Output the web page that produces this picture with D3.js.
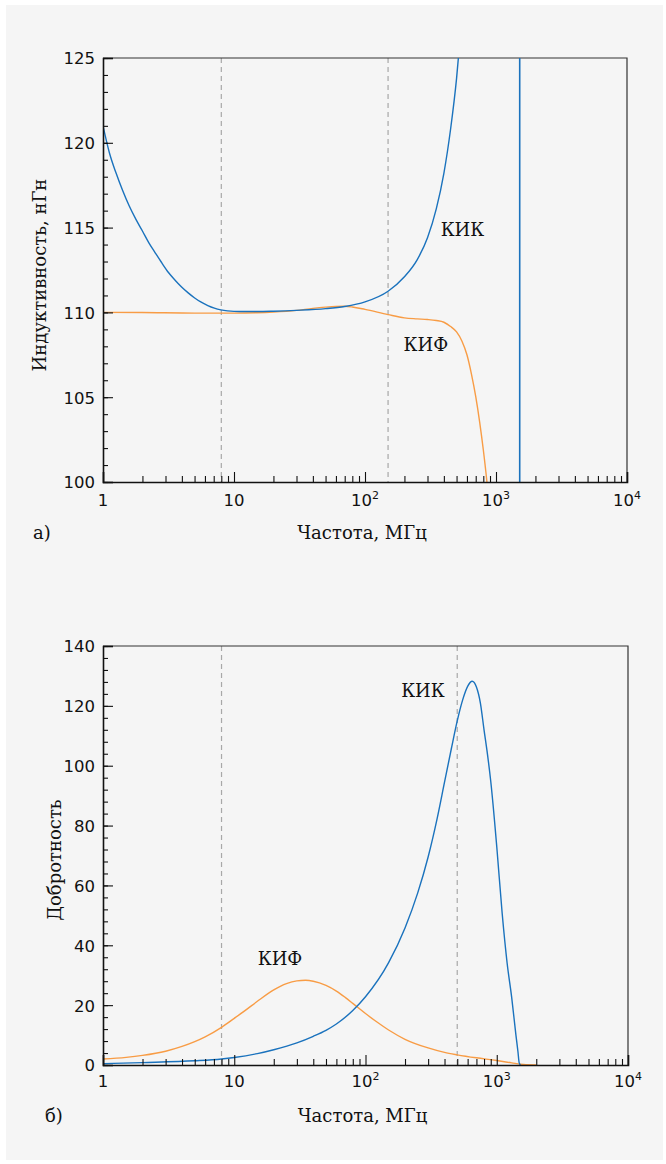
<!DOCTYPE html>
<html>
<head>
<meta charset="utf-8">
<script src="https://cdn.jsdelivr.net/npm/d3@7"></script>
<style>
  body { margin: 0; background: #ffffff; }
  svg { display: block; }
  .tick-lbl { font-family: "DejaVu Sans", sans-serif; font-size: 16.5px; fill: #111; }
  .lbl { font-family: "DejaVu Serif", serif; font-size: 18px; fill: #111; }
</style>
</head>
<body>
<div id="chart"></div>
<script>
// ---- данные ----
const xTickValues = [1, 10, 100, 1000, 10000];
const xTickText = [["1", ""], ["10", ""], ["10", "2"], ["10", "3"], ["10", "4"]];

// а) индуктивность, нГн
const freqKikL = [1, 1.12, 1.26, 1.41, 1.58, 1.78, 2, 2.24, 2.51, 2.82, 3.16, 3.55, 3.98, 4.47, 5.01, 5.62, 6.31, 7.08, 7.94, 8.91, 10,
    12, 15, 20, 30, 50, 70, 100, 150, 200, 250, 300, 350, 400, 450, 500, 530];
const kikL = [121.0, 119.4, 118.2, 117.2, 116.3, 115.5, 114.8, 114.1, 113.5, 112.9, 112.35, 111.9, 111.5, 111.15, 110.85, 110.6, 110.4, 110.25, 110.15, 110.09, 110.06,
    110.05, 110.05, 110.07, 110.12, 110.22, 110.35, 110.62, 111.25, 112.1, 113.1, 114.4, 116.1, 118.2, 120.8, 123.8, 126.0];
const kikResonance = 1517;
const freqKifL = [1, 2, 5, 10, 15, 20, 30, 40, 50, 60, 70, 80, 100, 150, 200, 250, 300, 350, 400, 450, 500, 550, 600, 650, 700, 750, 800, 850, 880];
const kifL = [110.0, 109.99, 109.96, 109.96, 109.98, 110.02, 110.12, 110.24, 110.31, 110.35, 110.36, 110.32, 110.18, 109.87, 109.68, 109.62, 109.58, 109.52, 109.42, 109.17, 108.85, 108.3, 107.5, 106.35, 105.05, 103.55, 101.9, 100.1, 98.9];

// б) добротность
const freqKikQ = [1, 2, 5, 8, 10, 15, 20, 30, 40, 50, 60, 80, 100, 150, 200, 250, 300, 350, 400, 450, 500, 550, 600, 650, 700, 750, 800, 850, 900, 1000, 1100, 1200, 1300, 1400, 1450, 1483, 1517];
const kikQ = [0.45, 0.8, 1.4, 2.0, 2.5, 3.8, 5.1, 7.4, 9.6, 11.6, 13.7, 18.2, 22.8, 34.2, 45.8, 57.5, 69.5, 82, 94.5, 105.5, 115, 122, 126.5, 128.2, 126.3, 121, 112, 103.8, 94.8, 73, 50.6, 34, 22.5, 10, 4.5, 0.7, 0];
const freqKifQ = [1, 1.5, 2, 3, 4, 5, 6, 8, 10, 12, 15, 20, 25, 30, 35, 40, 50, 60, 70, 80, 100, 120, 150, 200, 300, 400, 500, 700, 1000, 1300, 1600, 2000];
const kifQ = [2.0, 2.55, 3.2, 4.6, 6.2, 7.8, 9.4, 12.6, 15.6, 18.1, 21.3, 25.1, 27.2, 28.1, 28.3, 28.0, 26.6, 24.7, 22.6, 20.6, 17.2, 14.6, 11.7, 8.6, 5.7, 4.2, 3.4, 2.4, 1.5, 0.7, 0.15, 0];

const blue = "#1a72bd", orange = "#f89c45";

const W = 666, H = 1164;
const svg = d3.select("#chart").append("svg").attr("width", W).attr("height", H);
svg.append("rect").attr("x", 6).attr("y", 5).attr("width", 657).attr("height", 1155).attr("fill", "#f5f5f5");

function panel(cfg) {
    const g = svg.append("g").attr("transform", `translate(${cfg.left},${cfg.top})`);
    const w = cfg.width, h = cfg.height;
    const x = d3.scaleLog().domain([1, 10000]).range([0, w]);
    const y = d3.scaleLinear().domain(cfg.yDomain).range([h, 0]);

    const clipId = "clip-" + cfg.id;
    g.append("clipPath").attr("id", clipId).append("rect").attr("width", w).attr("height", h);

    // пунктирные вертикали
    g.selectAll(".dash").data(cfg.dashed).enter().append("line")
        .attr("x1", d => x(d)).attr("x2", d => x(d))
        .attr("y1", 0).attr("y2", h)
        .attr("stroke", "#a8a8a8").attr("stroke-width", 1.2)
        .attr("stroke-dasharray", "5,4");

    // рамка сверху и справа
    g.append("path").attr("d", `M0,0H${w}V${h}`).attr("fill", "none")
        .attr("stroke", "#333").attr("stroke-width", 1.2);

    // кривые
    const line = d3.line().x(d => x(d[0])).y(d => y(d[1])).curve(d3.curveMonotoneX);
    const curves = g.append("g").attr("clip-path", `url(#${clipId})`);
    cfg.series.forEach(s => {
        curves.append("path")
            .datum(d3.zip(s.f, s.v))
            .attr("d", line)
            .attr("fill", "none")
            .attr("stroke", s.color)
            .attr("stroke-width", 1.4);
    });
    if (cfg.vline) {
        curves.append("line")
            .attr("x1", x(cfg.vline)).attr("x2", x(cfg.vline))
            .attr("y1", 0).attr("y2", h)
            .attr("stroke", blue).attr("stroke-width", 1.6);
    }

    // ось Y
    const yMinor = d3.range(cfg.yDomain[0], cfg.yDomain[1] + 0.001, cfg.yMinorStep);
    g.append("g").call(d3.axisLeft(y).tickValues(yMinor).tickSize(-5).tickFormat(""))
        .call(a => a.select(".domain").remove());
    const yAx = g.append("g").call(d3.axisLeft(y).tickValues(cfg.yTicks).tickSize(-10).tickPadding(8));
    yAx.selectAll("text").attr("class", "tick-lbl").attr("dy", "0.36em");
    yAx.select(".domain").attr("stroke", "#111").attr("stroke-width", 1.6);
    yAx.attr("font-size", null).attr("font-family", null);

    // ось X
    const xMinor = [];
    for (let p = 1; p < 10000; p *= 10) for (let k = 2; k <= 9; k++) xMinor.push(p * k);
    g.append("g").attr("transform", `translate(0,${h})`)
        .call(d3.axisBottom(x).tickValues(xMinor).tickSize(-6).tickFormat(""))
        .call(a => a.select(".domain").remove());
    const xAx = g.append("g").attr("transform", `translate(0,${h})`)
        .call(d3.axisBottom(x).tickValues(xTickValues).tickSize(-10).tickFormat(""));
    xAx.select(".domain").attr("stroke", "#111").attr("stroke-width", 1.6);
    g.selectAll(".tick line").attr("stroke", "#111").attr("stroke-width", 1.1);

    const xl = g.append("g").selectAll("text").data(xTickValues).enter().append("text")
        .attr("class", "tick-lbl")
        .attr("x", d => x(d))
        .attr("y", h + cfg.xLabelOffset)
        .attr("text-anchor", "middle");
    xl.each(function (d, i) {
        const t = d3.select(this);
        t.append("tspan").text(xTickText[i][0]);
        if (xTickText[i][1]) t.append("tspan").attr("font-size", 11).attr("dy", -7).text(xTickText[i][1]);
    });

    // подписи
    g.append("text").attr("class", "lbl").attr("x", w / 2 - 3).attr("y", h + 57)
        .attr("text-anchor", "middle").text("Частота, МГц");
    g.append("text").attr("class", "lbl")
        .attr("transform", `translate(${cfg.yTitleX - cfg.left},${cfg.yTitleY - cfg.top}) rotate(-90)`)
        .attr("text-anchor", "middle").text(cfg.yTitle);
    g.append("text").attr("class", "lbl").attr("x", cfg.letterX - cfg.left).attr("y", h + 57).text(cfg.letter);

    cfg.notes.forEach(n => {
        g.append("text").attr("class", "lbl").attr("x", x(n.f)).attr("y", y(n.v)).text(n.text);
    });
}

panel({
    id: "a", left: 103, top: 58, width: 524, height: 424,
    yDomain: [100, 125], yTicks: [100, 105, 110, 115, 120, 125], yMinorStep: 1,
    dashed: [8, 150], vline: kikResonance,
    series: [
        { f: freqKifL, v: kifL, color: orange },
        { f: freqKikL, v: kikL, color: blue }
    ],
    xLabelOffset: 24,
    yTitle: "Индуктивность, нГн", yTitleX: 46, yTitleY: 275,
    letter: "а)", letterX: 33,
    notes: [
        { f: 378, v: 114.5, text: "КИК" },
        { f: 197, v: 107.75, text: "КИФ" }
    ]
});

panel({
    id: "b", left: 103, top: 646, width: 525, height: 419,
    yDomain: [0, 140], yTicks: [0, 20, 40, 60, 80, 100, 120, 140], yMinorStep: 4,
    dashed: [8, 500],
    series: [
        { f: freqKifQ, v: kifQ, color: orange },
        { f: freqKikQ, v: kikQ, color: blue }
    ],
    xLabelOffset: 22,
    yTitle: "Добротность", yTitleX: 60.5, yTitleY: 860,
    letter: "б)", letterX: 45,
    notes: [
        { f: 187, v: 123, text: "КИК" },
        { f: 15.1, v: 33.5, text: "КИФ" }
    ]
});
</script>
</body>
</html>
